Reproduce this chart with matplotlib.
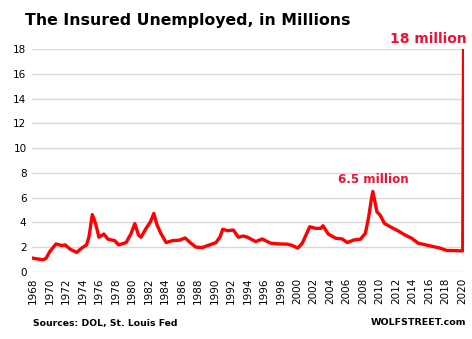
import matplotlib.pyplot as plt

# Insured unemployment, millions
years = [1967.9, 1968.5, 1969.25, 1969.6, 1970.05, 1970.8, 1971.5, 1971.9, 1972.5,
         1973.3, 1973.9, 1974.5, 1974.8, 1975.2, 1975.6, 1976.0, 1976.6, 1977.1,
         1977.9, 1978.4, 1979.3, 1979.9, 1980.35, 1980.8, 1981.1, 1981.7, 1982.25,
         1982.65, 1983.05, 1983.5, 1984.15, 1984.95, 1985.75, 1986.45, 1987.15,
         1987.75, 1988.55, 1989.4, 1990.2, 1990.7, 1991.0, 1991.6, 1992.3, 1992.9,
         1993.5, 1994.0, 1995.0, 1995.8, 1996.8, 1997.8, 1998.85, 1999.45, 2000.1,
         2000.65, 2001.1, 2001.55, 2002.25, 2002.9, 2003.15, 2003.8, 2004.7, 2005.5,
         2006.1, 2006.9, 2007.7, 2008.3, 2008.7, 2009.0, 2009.2, 2009.5, 2009.7,
         2010.1, 2010.6, 2011.3, 2012.3, 2013.1, 2013.9, 2014.7, 2016.15, 2017.35,
         2018.15, 2019.0, 2019.8, 2020.1, 2020.2]
values = [1.12, 1.05, 0.98, 1.1, 1.65, 2.26, 2.13, 2.18, 1.84,
          1.57, 1.92, 2.18, 2.85, 4.63, 3.9, 2.8, 3.06, 2.64,
          2.53, 2.18, 2.37, 3.1, 3.9, 2.98, 2.8, 3.5, 4.05,
          4.72, 3.78, 3.12, 2.37, 2.53, 2.56, 2.74, 2.32,
          2.0, 1.97, 2.18, 2.37, 2.85, 3.44, 3.33, 3.38, 2.8,
          2.9, 2.8, 2.45, 2.66, 2.32, 2.26, 2.24, 2.13, 1.92,
          2.32, 2.98, 3.65, 3.52, 3.52, 3.73, 3.06, 2.72, 2.66,
          2.37, 2.58, 2.64, 3.12, 4.45, 5.78, 6.5, 5.52, 4.85,
          4.58, 3.92, 3.65, 3.3, 2.98, 2.72, 2.32, 2.1, 1.92,
          1.73, 1.72, 1.7, 1.7, 18.0]

x_ticks = list(range(1968, 2021, 2))
y_ticks = list(range(0, 19, 2))

fig = plt.figure(figsize=(4.72, 3.39), dpi=100)
ax = fig.add_axes([0.068, 0.198, 0.915, 0.657])

ax.plot(years, values, color='#ff0000', linewidth=2.4, solid_joinstyle='round')

ax.set_xlim(1967.9, 2020.25)
ax.set_ylim(0, 18)
ax.set_xticks(x_ticks)
ax.set_xticklabels([str(y) for y in x_ticks], rotation=90, fontsize=7.5)
ax.set_yticks(y_ticks)
ax.set_yticklabels([str(y) for y in y_ticks], fontsize=7.5)
ax.tick_params(length=0, pad=4)
ax.grid(axis='y', color='#d9d9d9', linewidth=1)
ax.set_axisbelow(True)
for s in ax.spines.values():
    s.set_visible(False)

# annotations
ax.text(2009.2, 6.95, '6.5 million', color='#ee1133', fontsize=8.6, fontweight='bold',
        ha='center', va='bottom')
fig.text(0.988, 0.885, '18 million', color='#ee1133', fontsize=10, fontweight='bold',
         ha='right', va='center')

fig.text(0.053, 0.94, 'The Insured Unemployed, in Millions', fontsize=11.3, fontweight='bold',
         ha='left', va='center')
fig.text(0.07, 0.045, 'Sources: DOL, St. Louis Fed', fontsize=6.7, fontweight='bold',
         ha='left', va='center')
fig.text(0.988, 0.048, 'WOLFSTREET.com', fontsize=6.8, fontweight='bold',
         ha='right', va='center')

fig.savefig('out.png', dpi=100)
